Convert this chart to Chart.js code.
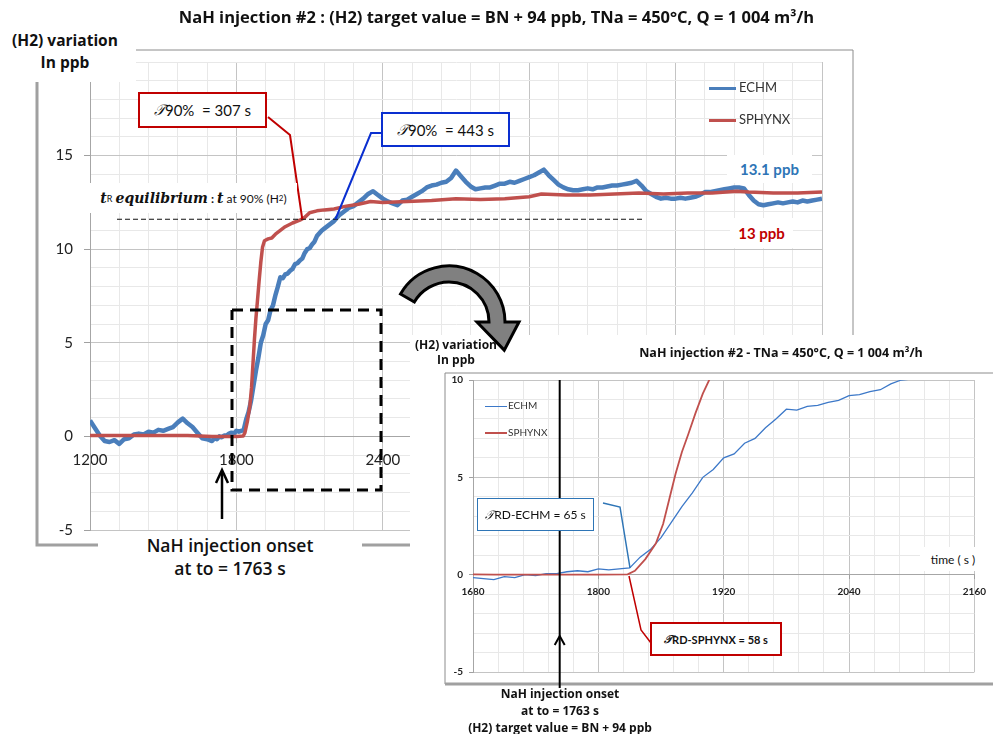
<!DOCTYPE html>
<html>
<head>
<meta charset="utf-8">
<script src="https://cdn.jsdelivr.net/npm/chart.js@4.4.1/dist/chart.umd.min.js"></script>
<style>
body{margin:0;background:#fff;}
#page{position:relative;width:993px;height:734px;overflow:hidden;font-family:Lato,"Open Sans",sans-serif;color:#111;}
.a{position:absolute;white-space:nowrap;}
.o{font-family:"Open Sans",Lato,sans-serif;}
.w{background:#fff;}
.box{position:absolute;background:#fff;box-sizing:border-box;display:flex;align-items:center;justify-content:center;white-space:nowrap;}
.T{font-family:"DejaVu Serif",serif;font-style:italic;}
#main{position:absolute;left:0;top:0;z-index:1;}
#insetWrap{position:absolute;left:410px;top:335px;width:583px;height:399px;background:#fff;z-index:3;}
#inset{position:absolute;left:0;top:0;}
#over{position:absolute;left:0;top:0;z-index:4;pointer-events:none;}
.lg{position:absolute;}
</style>
</head>
<body>
<div id="page">
  <canvas id="main" width="993" height="734"></canvas>

  <div class="a o" style="left:0;top:5px;width:993px;text-align:center;font-weight:bold;font-size:16.5px;z-index:2;">NaH injection #2 : (H2) target value = BN + 94 ppb, TNa = 450°C, Q = 1 004 m³/h</div>
  <div class="a w" style="left:0;top:28px;width:136px;height:54px;z-index:2;"></div>
  <div class="a o" style="left:0;top:29px;width:130px;text-align:center;font-weight:bold;font-size:15.5px;line-height:22px;z-index:2;">(H2) variation<br>In ppb</div>

  <div class="box" style="left:138px;top:92px;width:129px;height:36px;border:2px solid #c00000;font-size:15px;z-index:2;"><span class="T">𝒯</span>90% &nbsp;= 307 s</div>
  <div class="box" style="left:381px;top:112px;width:129px;height:35px;border:2px solid #0a2fd0;font-size:15px;z-index:2;"><span class="T">𝒯</span>90% &nbsp;= 443 s</div>

  <div class="box" style="left:90px;top:183px;width:207px;height:30px;font-size:12px;z-index:2;"><b class="T" style="font-size:14px;">t</b><span style="font-size:9px;">R</span>&nbsp;<b class="T" style="font-size:14px;">equilibrium</b>&nbsp;<b>:</b>&nbsp;<b class="T" style="font-size:14px;">t</b>&nbsp;at 90% (H<sub style="font-size:8px;">2</sub>)</div>

  <div class="box" style="left:727px;top:155px;width:85px;height:28px;font-size:15px;font-weight:bold;color:#2e75b6;z-index:2;">13.1 ppb</div>
  <div class="box" style="left:730px;top:218px;width:63px;height:30px;font-size:15px;font-weight:bold;color:#c00000;z-index:2;">13 ppb</div>

  <div class="lg" style="left:709px;top:87px;width:27px;height:3px;background:#4a7ebb;z-index:2;"></div>
  <div class="a" style="left:739px;top:79px;font-size:13px;color:#333;z-index:2;">ECHM</div>
  <div class="lg" style="left:709px;top:119px;width:27px;height:3px;background:#c0504d;z-index:2;"></div>
  <div class="a" style="left:739px;top:111px;font-size:13px;color:#333;z-index:2;">SPHYNX</div>

  <div class="box o" style="left:98px;top:532px;width:264px;height:50px;font-size:17.5px;font-weight:600;line-height:23px;text-align:center;z-index:2;">NaH injection onset<br>at to = 1763 s</div>

  <div id="insetWrap">
    <canvas id="inset" width="583" height="399"></canvas>
    <div class="a o" style="left:3px;top:2px;width:86px;text-align:center;font-weight:bold;font-size:12px;line-height:15px;">(H2) variation<br>In ppb</div>
    <div class="a o" style="left:171px;top:9px;width:400px;text-align:center;font-weight:bold;font-size:12.5px;">NaH injection #2 - TNa = 450°C, Q = 1 004 m³/h</div>
    <div class="lg" style="left:75px;top:71px;width:22px;height:1px;background:#3c78c8;"></div>
    <div class="a" style="left:98px;top:64px;font-size:10px;color:#333;">ECHM</div>
    <div class="lg" style="left:75px;top:97px;width:22px;height:2px;background:#c0504d;"></div>
    <div class="a" style="left:98px;top:91px;font-size:10px;color:#333;">SPHYNX</div>
    <div class="box" style="left:67px;top:163px;width:117px;height:33px;border:1.5px solid #2e75b6;font-size:12px;"><span class="T">𝒯</span>RD-ECHM = 65 s</div>
    <div class="box" style="left:240px;top:287px;width:132px;height:34px;border:2px solid #c00000;font-size:11px;font-weight:bold;"><span class="T">𝒯</span>RD-SPHYNX = 58 s</div>
    <div class="box" style="left:510px;top:212px;width:66px;height:24px;font-size:12px;">time ( s )</div>
    <div class="a o" style="left:48px;top:350px;width:204px;text-align:center;font-weight:bold;font-size:12px;line-height:17px;">NaH injection onset<br>at to = 1763 s<br>(H2) target value = BN + 94 ppb</div>
  </div>

  <canvas id="over" width="993" height="734"></canvas>
</div>

<script>
// ECHM signal (s, ppb)
var echmT = [1200,1220,1240,1260,1280,1300,1320,1340,1360,1380,1400,1420,1440,1460,1480,1500,1520,1540,1560,1580,1600,1620,1640,1660,
  1680,1690,1700,1710,1720,1730,1740,1750,1760,1770,1780,1790,1800,1810,1820,1830,1840,1850,1860,1870,1880,1890,1900,1910,1920,1930,
  1940,1950,1960,1970,1980,1990,2000,2010,2020,2030,2040,2050,2060,2070,2080,2090,2100,2110,2120,2130,2140,2150,2160,
  2180,2200,2220,2240,2260,2280,2300,2320,2340,2360,2380,2400,2420,2440,2460,2480,2500,2520,2540,2560,
  2580,2600,2620,2640,2660,2680,2700,2720,2740,2760,2780,2800,2820,2840,2860,2880,2900,2920,2940,2960,
  2980,3000,3020,3040,3060,3080,3100,3120,3140,3160,3180,3200,3220,3240,3260,3280,3300,3320,3340,3360,
  3380,3400,3420,3440,3460,3480,3500,3520,3540,3560,3580,3600,3620,3640,3660,3680,3700,3720,3740,3760,
  3780,3800,3820,3840,3860,3880,3900,3920,3940,3960,3980,4000,4020,4040,4060,4080,4100,4120,4140,4160,4180,4200];
var echmV = [0.85,0.45,0.05,-0.25,-0.3,-0.2,-0.4,-0.15,-0.1,0.1,0.15,0.1,0.25,0.2,0.35,0.3,0.4,0.5,0.75,0.95,0.7,0.5,0.2,-0.1,
  -0.15,-0.2,-0.25,-0.1,-0.15,0.0,-0.05,0.05,0.05,0.15,0.2,0.15,0.3,0.25,0.3,0.35,0.9,1.3,1.9,2.7,3.5,4.2,5.0,5.4,6.0,6.2,
  6.75,7.0,7.55,8.0,8.5,8.45,8.65,8.7,8.85,8.95,9.2,9.25,9.4,9.5,9.8,10.0,10.05,10.25,10.4,10.7,10.85,11.0,11.1,
  11.3,11.5,11.8,12.0,12.2,12.3,12.5,12.7,12.95,13.1,12.9,12.7,12.55,12.45,12.35,12.6,12.65,12.8,12.95,13.1,
  13.3,13.4,13.45,13.55,13.6,13.8,14.2,13.9,13.6,13.35,13.2,13.25,13.3,13.3,13.4,13.5,13.5,13.6,13.55,13.65,
  13.75,13.85,13.95,14.1,14.25,13.95,13.7,13.45,13.3,13.2,13.15,13.15,13.2,13.25,13.2,13.3,13.3,13.35,13.4,13.4,
  13.45,13.5,13.55,13.65,13.4,13.1,12.95,12.8,12.7,12.75,12.7,12.7,12.75,12.7,12.75,12.8,12.9,13.05,13.05,13.1,
  13.15,13.2,13.25,13.3,13.3,13.25,12.9,12.6,12.4,12.35,12.4,12.45,12.5,12.45,12.5,12.55,12.5,12.6,12.55,12.6,12.65,12.7];

// SPHYNX signal (s, ppb)
var sphT = [1200,1300,1400,1500,1600,1700,1750,1800,1828,1835,1845,1855,1862,1868,1874,1880,1886,1893,1900,1907,
  1915,1930,1945,1960,1980,2000,2030,2060,2080,2100,2130,2160,2200,2250,2300,2350,2400,2500,2600,2700,
  2800,2900,3000,3050,3150,3250,3350,3450,3550,3650,3750,3850,3900,4000,4100,4200];
var sphV = [0.05,0.05,0.05,0.05,0.05,0.0,0.0,0.0,0.02,0.2,0.8,1.6,2.6,3.9,5.2,6.3,7.2,8.3,9.3,10.1,
  10.45,10.55,10.6,10.8,11.0,11.2,11.4,11.55,11.7,11.95,12.05,12.1,12.15,12.3,12.4,12.55,12.5,12.55,12.6,12.7,
  12.65,12.7,12.8,12.95,12.9,12.9,12.95,13.0,12.95,13.0,13.0,13.1,13.05,13.0,13.0,13.05];

var mainXLabels = [1200, 1800, 2400, 3000, 3600, 4200];
var mainYLabels = [-5, 0, 5, 10, 15];
var zoomXLabels = [1680, 1800, 1920, 2040, 2160];
var zoomYLabels = [-5, 0, 5, 10];

var BLUE = '#4a7ebb', RED = '#c0504d';
Chart.defaults.font.family = 'Lato, "Open Sans", sans-serif';
Chart.defaults.color = '#333';

function pts(tt, vv) {
  return tt.map(function (t, i) { return {x: t, y: vv[i]}; });
}

function gridCol(list, zero) {
  return function (c) {
    if (!c.tick) return '#e8e8e8';
    if (zero && c.tick.value === 0) return '#a6a6a6';
    return list.indexOf(c.tick.value) >= 0 ? '#c4c4c4' : '#e8e8e8';
  };
}
function tickCol(list) {
  return function (c) {
    return c.tick && list.indexOf(c.tick.value) >= 0 ? '#a0a0a0' : 'rgba(0,0,0,0)';
  };
}

function line(ctx, p, col, w, dash) {
  ctx.save();
  ctx.strokeStyle = col; ctx.lineWidth = w; ctx.setLineDash(dash || []);
  ctx.beginPath();
  ctx.moveTo(p[0][0], p[0][1]);
  for (var i = 1; i < p.length; i++) ctx.lineTo(p[i][0], p[i][1]);
  ctx.stroke();
  ctx.restore();
}

// decorations of the big chart (page coordinates)
var mainDeco = {
  id: 'mainDeco',
  afterDraw: function (chart) {
    var ctx = chart.ctx, x = chart.scales.x, y = chart.scales.y;
    // chart frame
    line(ctx, [[37, 50], [853, 50], [853, 545]], '#8c8c8c', 1);
    line(ctx, [[37, 50], [37, 545], [853, 545]], '#a0a0a0', 3);
    // 90 % level
    var y90 = y.getPixelForValue(11.6);
    line(ctx, [[117, y90], [642, y90]], '#111', 1.2, [5, 3]);
    // leaders
    line(ctx, [[268, 117], [290, 135], [x.getPixelForValue(2070), y90]], '#c00000', 2);
    line(ctx, [[381, 133], [371, 133], [x.getPixelForValue(2206), y90]], '#0a2fd0', 2);
    // zoom frame
    line(ctx, [[232, 310], [381, 310], [381, 490], [232, 490], [232, 310]], '#000', 3, [11, 7]);
    // onset arrow
    line(ctx, [[222, 519], [222, 471]], '#000', 2.5);
    line(ctx, [[216, 483], [222, 470], [228, 483]], '#000', 2.5);
  }
};

new Chart(document.getElementById('main'), {
  type: 'line',
  data: {
    datasets: [
      {label: 'SPHYNX', data: pts(sphT, sphV), borderColor: RED, borderWidth: 3.5, pointRadius: 0, order: 0},
      {label: 'ECHM', data: pts(echmT, echmV), borderColor: BLUE, borderWidth: 4.5, pointRadius: 0, order: 1}
    ]
  },
  options: {
    responsive: false,
    animation: false,
    layout: {padding: {left: 40, top: 62, right: 171, bottom: 204}},
    plugins: {legend: {display: false}, tooltip: {enabled: false}},
    elements: {line: {tension: 0, borderJoinStyle: 'round'}},
    scales: {
      x: {
        type: 'linear', position: {y: 0}, min: 1200, max: 4200,
        ticks: {stepSize: 120, autoSkip: false, maxRotation: 0, padding: 9, font: {size: 15}, color: '#222',
          callback: function (v) { return mainXLabels.indexOf(v) >= 0 ? String(v) : ''; }},
        grid: {color: gridCol(mainXLabels), tickColor: tickCol(mainXLabels), tickLength: 6},
        border: {color: '#a6a6a6'}
      },
      y: {
        min: -5, max: 20,
        afterFit: function (s) { s.width = 50; },
        ticks: {stepSize: 1, autoSkip: false, padding: 11, font: {size: 15}, color: '#222',
          callback: function (v) { return mainYLabels.indexOf(v) >= 0 ? String(v) : ''; }},
        grid: {color: gridCol(mainYLabels, true), tickColor: tickCol(mainYLabels), tickLength: 6},
        border: {color: '#a6a6a6'}
      }
    }
  },
  plugins: [mainDeco]
});

// decorations of the zoom chart (inset coordinates)
var zoomDeco = {
  id: 'zoomDeco',
  afterDraw: function (chart) {
    var ctx = chart.ctx, x = chart.scales.x;
    line(ctx, [[35, 349], [35, 38], [583, 38]], '#8c8c8c', 1);
    line(ctx, [[35, 349], [583, 349]], '#a0a0a0', 3);
    var x0 = x.getPixelForValue(1763);
    line(ctx, [[x0, chart.chartArea.top], [x0, 353]], '#000', 2);
    line(ctx, [[x0 - 5, 310], [x0, 301], [x0 + 5, 310]], '#000', 2);
    line(ctx, [[193, 168], [210, 172], [220, 233]], '#2e75b6', 1.5);
    line(ctx, [[219, 241], [231, 295], [241, 308]], '#c00000', 1.5);
  }
};

new Chart(document.getElementById('inset'), {
  type: 'line',
  data: {
    datasets: [
      {label: 'SPHYNX', data: pts(sphT, sphV), borderColor: RED, borderWidth: 1.8, pointRadius: 0, order: 0},
      {label: 'ECHM', data: pts(echmT, echmV), borderColor: '#3c78c8', borderWidth: 1.3, pointRadius: 0, order: 1}
    ]
  },
  options: {
    responsive: false,
    animation: false,
    layout: {padding: {left: 33, top: 45, right: 12, bottom: 62}},
    plugins: {legend: {display: false}, tooltip: {enabled: false}},
    elements: {line: {tension: 0}},
    scales: {
      x: {
        type: 'linear', position: {y: 0}, min: 1680, max: 2160,
        ticks: {stepSize: 24, autoSkip: false, maxRotation: 0, padding: 7, font: {size: 10, weight: 'bold'}, color: '#222',
          callback: function (v) { return zoomXLabels.indexOf(v) >= 0 ? String(v) : ''; }},
        grid: {color: gridCol(zoomXLabels), tickColor: tickCol(zoomXLabels), tickLength: 4},
        border: {color: '#a6a6a6'}
      },
      y: {
        min: -5, max: 10,
        afterFit: function (s) { s.width = 30; },
        ticks: {stepSize: 1, autoSkip: false, padding: 6, font: {size: 10, weight: 'bold'}, color: '#222',
          callback: function (v) { return zoomYLabels.indexOf(v) >= 0 ? String(v) : ''; }},
        grid: {color: gridCol(zoomYLabels, true), tickColor: tickCol(zoomYLabels), tickLength: 4},
        border: {color: '#a6a6a6'}
      }
    }
  },
  plugins: [zoomDeco]
});

// curved grey arrow between the two charts
(function () {
  var c = document.getElementById('over').getContext('2d');
  var cx = 449, cy = 322, r = 48, hw = 8;
  var a0 = 210 * Math.PI / 180, a1 = 2 * Math.PI, at = 27 * Math.PI / 180;
  c.beginPath();
  c.arc(cx, cy, r + hw, a0, a1);
  c.lineTo(cx + (r + 22), cy);
  c.lineTo(cx + 62 * Math.cos(at), cy + 62 * Math.sin(at));
  c.lineTo(cx + (r - 20), cy);
  c.arc(cx, cy, r - hw, a1, a0, true);
  c.closePath();
  c.fillStyle = '#808080';
  c.fill();
  c.lineWidth = 3;
  c.strokeStyle = '#000';
  c.stroke();
})();
</script>
</body>
</html>
